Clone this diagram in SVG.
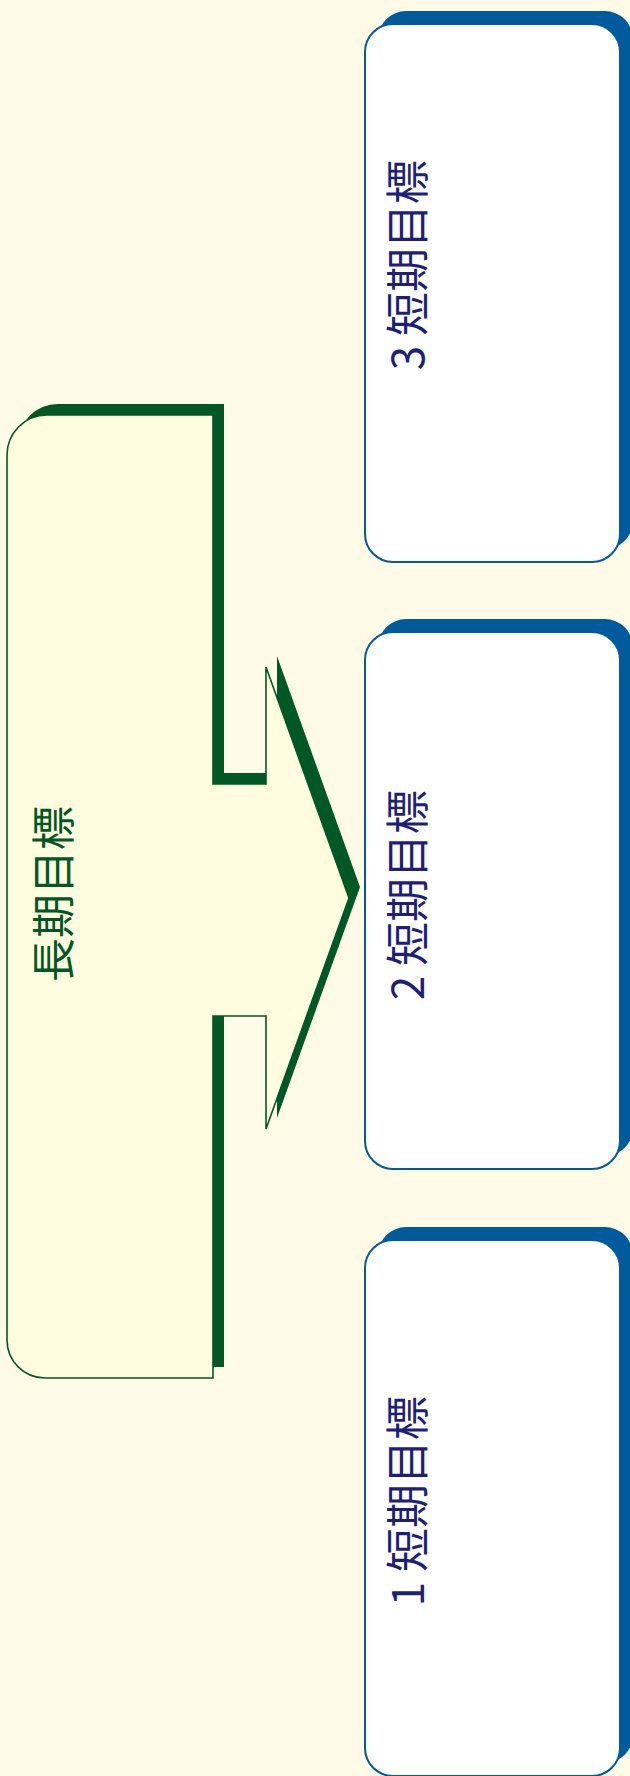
<svg xmlns="http://www.w3.org/2000/svg" width="630" height="1776" viewBox="0 0 630 1776">
<style>
.bshadow{fill:#005b9c;}
.bbox{fill:#ffffff;stroke:#005b9c;stroke-width:2;}
.btext{font-family:"Noto Sans CJK JP","Noto Sans",sans-serif;font-size:44px;fill:#1f1f7a;}
.gshadow{fill:#005824;}
.gbox{fill:#fffcdf;stroke:#005824;stroke-width:1.6;stroke-linejoin:miter;}
.gtext{font-family:"Noto Sans CJK JP","Noto Sans",sans-serif;font-size:44px;fill:#005824;}
</style>
<defs>
<path id="arrowShape" d="M 7,455 A 40 40 0 0 1 47,415 L 213,415 L 213,784 L 266,784 L 266,667 L 349,898 L 266,1129 L 266,1016 L 213,1016 L 213,1378 L 45,1378 A 38 38 0 0 1 7,1340 Z"/>
</defs>
<rect x="0" y="0" width="630" height="1776" fill="#fffbe7"/>
<g id="connectors"></g>
<g id="long-term">
<use href="#arrowShape" class="gshadow" transform="translate(11,-11)"/>
<use href="#arrowShape" class="gbox"/>
<text class="gtext" transform="translate(51,806) rotate(-90)" text-anchor="end" dominant-baseline="central">長期目標</text>
</g>
<g id="short-term-3">
<rect class="bshadow" x="378" y="11" width="255" height="538" rx="28"/>
<rect class="bbox" x="365" y="24" width="255" height="538" rx="28"/>
<text class="btext" transform="translate(405,160) rotate(-90)" text-anchor="end" dominant-baseline="central">3 短期目標</text>
</g>
<g id="short-term-2">
<rect class="bshadow" x="378" y="619" width="255" height="537" rx="28"/>
<rect class="bbox" x="365" y="632" width="255" height="537" rx="28"/>
<text class="btext" transform="translate(405,790) rotate(-90)" text-anchor="end" dominant-baseline="central">2 短期目標</text>
</g>
<g id="short-term-1">
<rect class="bshadow" x="378" y="1227" width="255" height="536" rx="28"/>
<rect class="bbox" x="365" y="1240" width="255" height="536" rx="28"/>
<text class="btext" transform="translate(405,1396) rotate(-90)" text-anchor="end" dominant-baseline="central">1 短期目標</text>
</g>
</svg>
